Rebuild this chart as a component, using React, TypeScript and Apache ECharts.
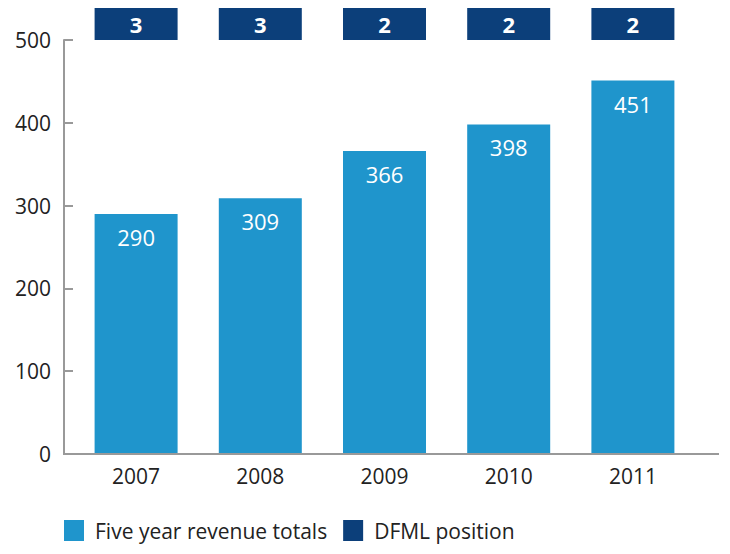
import React, { useEffect, useRef } from "react";
import * as echarts from "echarts";

const years = ["2007", "2008", "2009", "2010", "2011"];
const revenueTotals = [290, 309, 366, 398, 451];
const dfmlPosition = [3, 3, 2, 2, 2];
const yTicks = [0, 100, 200, 300, 400, 500];

const FONT = '"Open Sans", sans-serif';
const BAR = "#1f95cc";
const DARK = "#0c3f7a";

export default function App() {
  const ref = useRef<HTMLDivElement>(null);
  useEffect(() => {
    if (!ref.current) return;
    const chart = echarts.init(ref.current, null, { renderer: "svg" });
    chart.setOption({
      animation: false,
      textStyle: { fontFamily: FONT },
      legend: {
        left: 59,
        top: 515,
        itemWidth: 20,
        itemHeight: 21,
        itemGap: 16,
        icon: "rect",
        textStyle: { fontFamily: FONT, fontSize: 21, color: "#222", padding: [0, 0, 0, 6] },
        data: ["Five year revenue totals", "DFML position"],
      },
      grid: [
        { left: 74, width: 621, top: 40, height: 414 },
        { left: 74, width: 621, top: 8, height: 32 },
      ],
      xAxis: [
        {
          type: "category",
          gridIndex: 0,
          data: years,
          axisLine: { show: false },
          axisTick: { show: false },
          axisLabel: { fontFamily: FONT, fontSize: 21, color: "#222", margin: 11 },
        },
        {
          type: "category",
          gridIndex: 1,
          data: years,
          show: false,
        },
      ],
      yAxis: [
        {
          type: "value",
          gridIndex: 0,
          min: yTicks[0],
          max: yTicks[yTicks.length - 1],
          interval: 100,
          offset: 10,
          splitLine: { show: false },
          axisLine: { show: true, lineStyle: { color: "#999", width: 2 } },
          axisTick: { show: true, inside: true, length: 9, lineStyle: { color: "#999", width: 2 } },
          axisLabel: { fontFamily: FONT, fontSize: 21, color: "#222", margin: 13 },
        },
        {
          type: "value",
          gridIndex: 1,
          min: 0,
          max: 1,
          show: false,
        },
      ],
      series: [
        {
          name: "Five year revenue totals",
          type: "bar",
          xAxisIndex: 0,
          yAxisIndex: 0,
          barWidth: 83,
          itemStyle: { color: BAR },
          label: {
            show: true,
            position: "insideTop",
            distance: 12,
            color: "#fff",
            fontFamily: FONT,
            fontSize: 22,
          },
          data: revenueTotals,
        },
        {
          name: "DFML position",
          type: "bar",
          xAxisIndex: 1,
          yAxisIndex: 1,
          barWidth: 83,
          itemStyle: { color: DARK },
          label: {
            show: true,
            position: "inside",
            color: "#fff",
            fontFamily: FONT,
            fontSize: 22,
            fontWeight: "bold",
            formatter: (p: any) => String(dfmlPosition[p.dataIndex]),
          },
          data: dfmlPosition.map(() => 1),
        },
      ],
      graphic: [
        {
          type: "line",
          shape: { x1: 63, y1: 454, x2: 719, y2: 454 },
          style: { stroke: "#999", lineWidth: 2 },
          z: 10,
        },
      ],
    });
    return () => chart.dispose();
  }, []);
  return (
    <div
      ref={ref}
      style={{ position: "absolute", left: 0, top: 0, width: 730, height: 554, background: "#fff" }}
    />
  );
}
